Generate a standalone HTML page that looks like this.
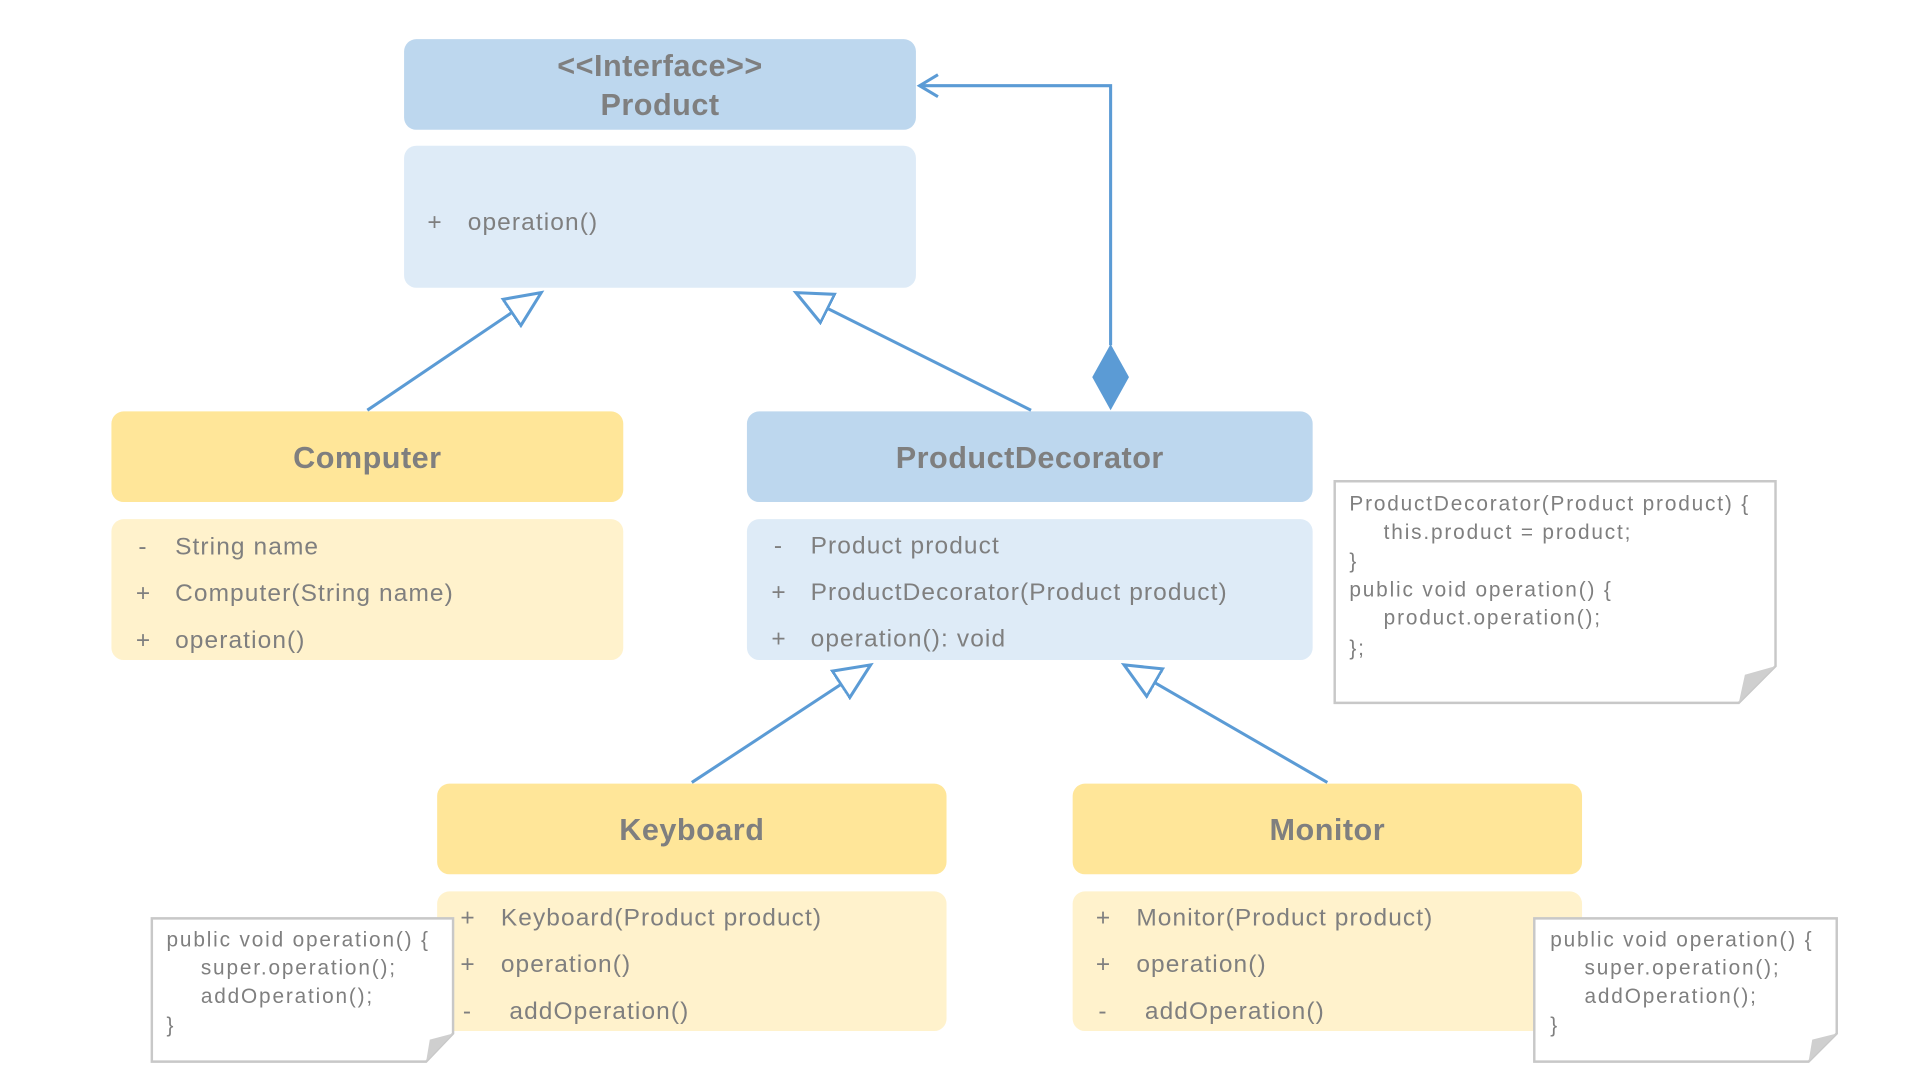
<!DOCTYPE html>
<html><head><meta charset="utf-8"><style>
html,body{margin:0;padding:0;background:#fff;width:1920px;height:1080px;overflow:hidden}
svg text{font-family:"Liberation Sans","Noto Sans CJK KR",sans-serif;fill:#7f7f7f}
.t{font-weight:bold;font-size:25px;letter-spacing:0.4px}
.r{font-size:20px;letter-spacing:0.9px}
.n{font-size:17px;letter-spacing:1.5px}
</style></head><body>
<svg width="1920" height="1080" viewBox="0 0 1568 882" xmlns="http://www.w3.org/2000/svg">
<defs>
<marker id="tri" markerUnits="userSpaceOnUse" markerWidth="40" markerHeight="40" refX="30" refY="15" orient="auto">
<path d="M1,2 L30,15 L1,28 Z" fill="#fff" stroke="#5B9BD5" stroke-width="2.5"/>
</marker>
</defs>
<rect x="330" y="32" width="418" height="74" rx="10" fill="#BDD7EE"/>
<text class="t" x="539" y="62" text-anchor="middle">&lt;&lt;Interface&gt;&gt;</text>
<text class="t" x="539" y="94" text-anchor="middle">Product</text>
<rect x="330" y="119" width="418" height="116" rx="10" fill="#DEEBF7"/>
<text class="r" x="349" y="188">+</text><text class="r" x="382" y="188">operation()</text>
<rect x="91" y="336" width="418" height="74" rx="10" fill="#FFE699"/>
<text class="t" x="300" y="382" text-anchor="middle">Computer</text>
<rect x="91" y="424" width="418" height="115" rx="10" fill="#FFF2CC"/>
<text class="r" x="113" y="453">-</text><text class="r" x="143" y="453">String name</text>
<text class="r" x="111" y="491">+</text><text class="r" x="143" y="491">Computer(String name)</text>
<text class="r" x="111" y="529">+</text><text class="r" x="143" y="529">operation()</text>
<rect x="610" y="336" width="462" height="74" rx="10" fill="#BDD7EE"/>
<text class="t" x="841" y="382" text-anchor="middle">ProductDecorator</text>
<rect x="610" y="424" width="462" height="115" rx="10" fill="#DEEBF7"/>
<text class="r" x="632" y="452">-</text><text class="r" x="662" y="452">Product product</text>
<text class="r" x="630" y="490">+</text><text class="r" x="662" y="490">ProductDecorator(Product product)</text>
<text class="r" x="630" y="528">+</text><text class="r" x="662" y="528">operation(): void</text>
<rect x="357" y="640" width="416" height="74" rx="10" fill="#FFE699"/>
<text class="t" x="565" y="686" text-anchor="middle">Keyboard</text>
<rect x="357" y="728" width="416" height="114" rx="10" fill="#FFF2CC"/>
<text class="r" x="376" y="756">+</text><text class="r" x="409" y="756">Keyboard(Product product)</text>
<text class="r" x="376" y="794">+</text><text class="r" x="409" y="794">operation()</text>
<text class="r" x="378" y="832">-</text><text class="r" x="416" y="832">addOperation()</text>
<rect x="876" y="640" width="416" height="74" rx="10" fill="#FFE699"/>
<text class="t" x="1084" y="686" text-anchor="middle">Monitor</text>
<rect x="876" y="728" width="416" height="114" rx="10" fill="#FFF2CC"/>
<text class="r" x="895" y="756">+</text><text class="r" x="928" y="756">Monitor(Product product)</text>
<text class="r" x="895" y="794">+</text><text class="r" x="928" y="794">operation()</text>
<text class="r" x="897" y="832">-</text><text class="r" x="935" y="832">addOperation()</text>
<g stroke="#5B9BD5" stroke-width="2.5" fill="none">
<line x1="300" y1="335" x2="442" y2="239" marker-end="url(#tri)"/>
<line x1="842" y1="335" x2="650" y2="239" marker-end="url(#tri)"/>
<line x1="565" y1="639" x2="711" y2="543" marker-end="url(#tri)"/>
<line x1="1084" y1="639" x2="918" y2="543" marker-end="url(#tri)"/>
<polyline points="907,282 907,70 751,70"/>
<polyline points="766,61 751,70 766,79"/>
</g>
<path d="M907,281 L922,308 L907,335 L892,308 Z" fill="#5B9BD5"/>
<g fill="#fff" stroke="#c8c8c8" stroke-width="2">
<path d="M1090,393 H1450 V544 L1420,574 H1090 Z"/>
<path d="M124,750 H370 V844 L348,867 H124 Z"/>
<path d="M1253,750 H1500 V844 L1477,867 H1253 Z"/>
</g>
<g fill="#cfcfcf">
<path d="M1450,544 L1420,574 L1425,551 Z"/>
<path d="M370,844 L348,867 L351,849 Z"/>
<path d="M1500,844 L1477,867 L1480,849 Z"/>
</g>
<text class="n" x="1102" y="417">ProductDecorator(Product product) {</text>
<text class="n" x="1130" y="440">this.product = product;</text>
<text class="n" x="1102" y="464">}</text>
<text class="n" x="1102" y="487">public void operation() {</text>
<text class="n" x="1130" y="510">product.operation();</text>
<text class="n" x="1102" y="535">};</text>
<text class="n" x="136" y="773">public void operation() {</text>
<text class="n" x="164" y="796">super.operation();</text>
<text class="n" x="164" y="819">addOperation();</text>
<text class="n" x="136" y="843">}</text>
<text class="n" x="1266" y="773">public void operation() {</text>
<text class="n" x="1294" y="796">super.operation();</text>
<text class="n" x="1294" y="819">addOperation();</text>
<text class="n" x="1266" y="843">}</text>
</svg>
</body></html>
